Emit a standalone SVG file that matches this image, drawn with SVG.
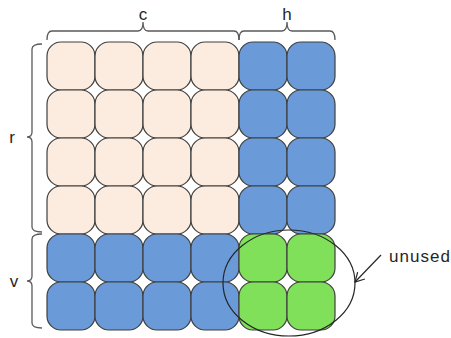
<svg xmlns="http://www.w3.org/2000/svg" width="451" height="338" viewBox="0 0 451 338">
<defs>
<style>
.cell{stroke:#3f3f3f;stroke-width:1.2}
.p{fill:#fcebdf}
.b{fill:#6b9ad8}
.g{fill:#80e05a}
.br{fill:none;stroke:#595959;stroke-width:1.3}
.lbl{font-family:"Liberation Sans",Arial,sans-serif;font-size:17px;fill:#262626}
</style>
<marker id="ah" markerWidth="12" markerHeight="12" refX="10" refY="6" orient="auto" markerUnits="userSpaceOnUse">
<path d="M1,1 L10,6 L1,11" fill="none" stroke="#262626" stroke-width="1.2"/>
</marker>
</defs>
<rect width="451" height="338" fill="#ffffff"/>
<g id="cells">
<g id="row1">
<rect class="cell p" x="47" y="42" width="48" height="48" rx="14"/>
<rect class="cell p" x="95" y="42" width="48" height="48" rx="14"/>
<rect class="cell p" x="143" y="42" width="48" height="48" rx="14"/>
<rect class="cell p" x="191" y="42" width="48" height="48" rx="14"/>
<rect class="cell b" x="239" y="42" width="48" height="48" rx="14"/>
<rect class="cell b" x="287" y="42" width="48" height="48" rx="14"/>
</g>
<g id="row2">
<rect class="cell p" x="47" y="90" width="48" height="48" rx="14"/>
<rect class="cell p" x="95" y="90" width="48" height="48" rx="14"/>
<rect class="cell p" x="143" y="90" width="48" height="48" rx="14"/>
<rect class="cell p" x="191" y="90" width="48" height="48" rx="14"/>
<rect class="cell b" x="239" y="90" width="48" height="48" rx="14"/>
<rect class="cell b" x="287" y="90" width="48" height="48" rx="14"/>
</g>
<g id="row3">
<rect class="cell p" x="47" y="138" width="48" height="48" rx="14"/>
<rect class="cell p" x="95" y="138" width="48" height="48" rx="14"/>
<rect class="cell p" x="143" y="138" width="48" height="48" rx="14"/>
<rect class="cell p" x="191" y="138" width="48" height="48" rx="14"/>
<rect class="cell b" x="239" y="138" width="48" height="48" rx="14"/>
<rect class="cell b" x="287" y="138" width="48" height="48" rx="14"/>
</g>
<g id="row4">
<rect class="cell p" x="47" y="186" width="48" height="48" rx="14"/>
<rect class="cell p" x="95" y="186" width="48" height="48" rx="14"/>
<rect class="cell p" x="143" y="186" width="48" height="48" rx="14"/>
<rect class="cell p" x="191" y="186" width="48" height="48" rx="14"/>
<rect class="cell b" x="239" y="186" width="48" height="48" rx="14"/>
<rect class="cell b" x="287" y="186" width="48" height="48" rx="14"/>
</g>
<g id="row5">
<rect class="cell b" x="47" y="234" width="48" height="48" rx="14"/>
<rect class="cell b" x="95" y="234" width="48" height="48" rx="14"/>
<rect class="cell b" x="143" y="234" width="48" height="48" rx="14"/>
<rect class="cell b" x="191" y="234" width="48" height="48" rx="14"/>
<rect class="cell g" x="239" y="234" width="48" height="48" rx="14"/>
<rect class="cell g" x="287" y="234" width="48" height="48" rx="14"/>
</g>
<g id="row6">
<rect class="cell b" x="47" y="282" width="48" height="48" rx="14"/>
<rect class="cell b" x="95" y="282" width="48" height="48" rx="14"/>
<rect class="cell b" x="143" y="282" width="48" height="48" rx="14"/>
<rect class="cell b" x="191" y="282" width="48" height="48" rx="14"/>
<rect class="cell g" x="239" y="282" width="48" height="48" rx="14"/>
<rect class="cell g" x="287" y="282" width="48" height="48" rx="14"/>
</g>
</g>
<g id="brace-c">
<path class="br" d="M47,40 Q47,31 52,31 H138 Q143,31 143,22 Q143,31 148,31 H234 Q239,31 239,40"/>
<text class="lbl" x="143" y="20" text-anchor="middle">c</text>
</g>
<g id="brace-h">
<path class="br" d="M239,40 Q239,31 244,31 H282 Q287,31 287,22 Q287,31 292,31 H330 Q335,31 335,40"/>
<text class="lbl" x="287" y="20" text-anchor="middle">h</text>
</g>
<g id="brace-r">
<path class="br" d="M42,44 Q32,44 32,49 V132 Q32,137 27,137 Q32,137 32,142 V227 Q32,232 42,232"/>
<text class="lbl" x="12" y="143" text-anchor="middle">r</text>
</g>
<g id="brace-v">
<path class="br" d="M42,234 Q32,234 32,239 V276 Q32,281 27,281 Q32,281 32,286 V323 Q32,328 42,328"/>
<text class="lbl" x="14" y="287" text-anchor="middle">v</text>
</g>
<g id="unused">
<ellipse cx="289" cy="283" rx="66" ry="53" fill="none" stroke="#262626" stroke-width="1.2"/>
<text class="lbl" x="389" y="262" textLength="61">unused</text>
</g>
<g id="connectors">
<line x1="381" y1="255" x2="355" y2="282" stroke="#262626" stroke-width="1.2" marker-end="url(#ah)"/>
</g>
</svg>
